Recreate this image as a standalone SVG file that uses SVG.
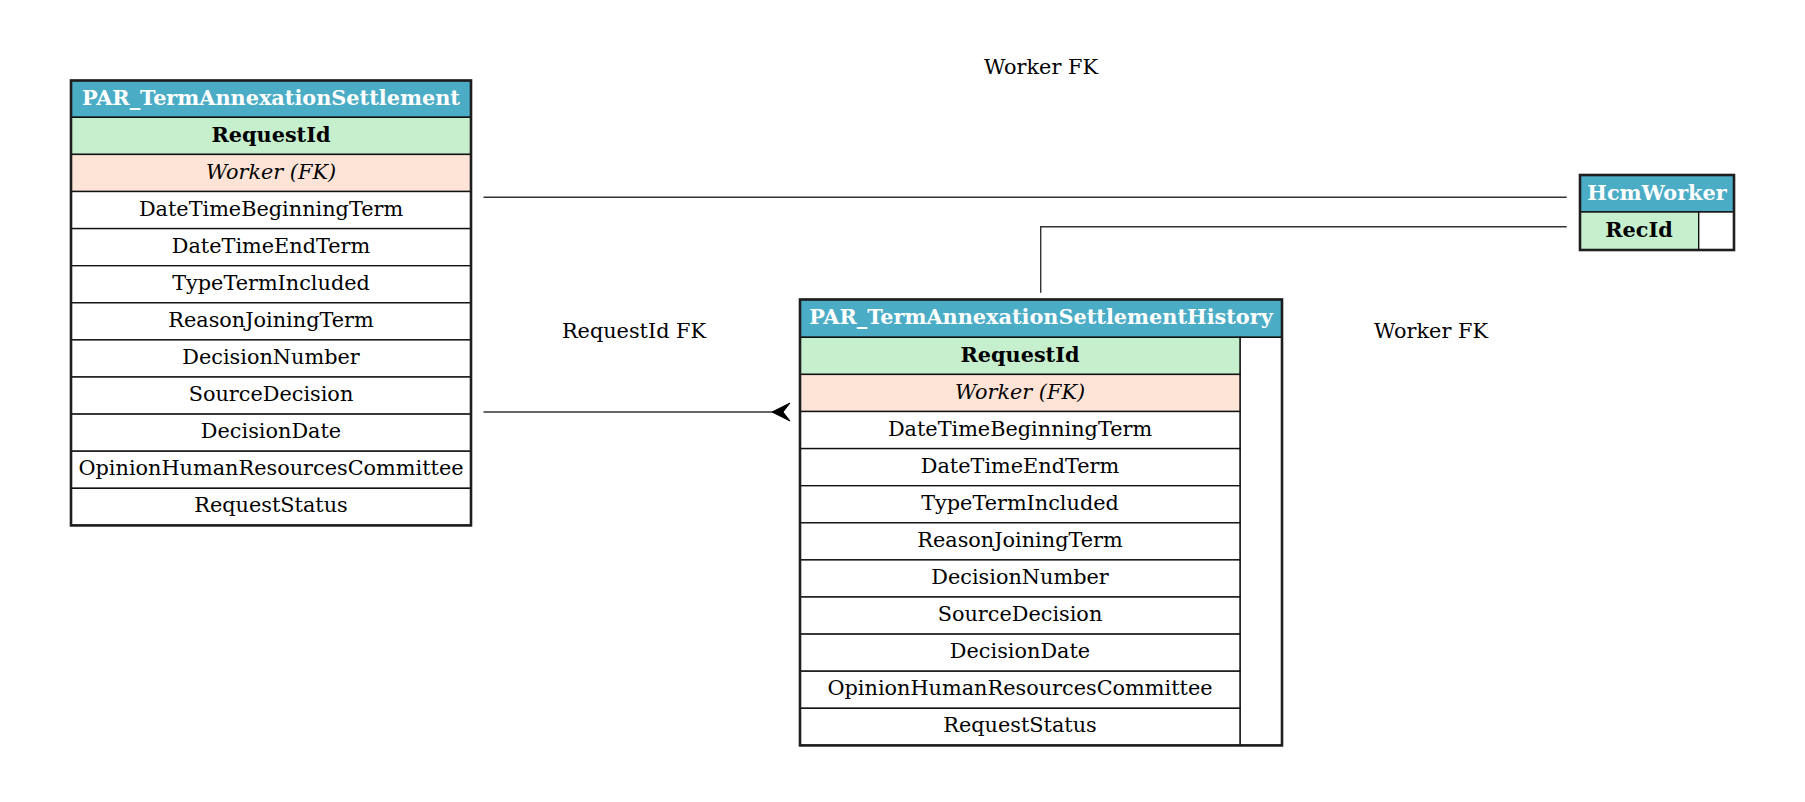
<svg xmlns="http://www.w3.org/2000/svg" width="1805" height="802" viewBox="0 0 1805 802">
<style>
text{font-family:"DejaVu Serif","Liberation Serif",serif;font-size:20.8px;fill:#000;text-anchor:middle}
.hd{font-weight:bold;fill:#fff}
.pk{font-weight:bold}
.fk{font-style:italic}
.hbg{fill:#4bacc6}
.pbg{fill:#c6efce}
.fbg{fill:#fde4d7}
.cell{stroke:#111;stroke-width:1.4}
.outer{fill:none;stroke:#1e1e1e;stroke-width:2.6}
.edge{fill:none;stroke:#333;stroke-width:1.4}
</style>
<rect width="1805" height="802" fill="#fff"/>

<g id="edges">
<path class="edge" d="M483.5,197.3 H1566.7"/>
<path class="edge" d="M1040.7,292.7 V226.7 H1566.7"/>
<path class="edge" d="M483.5,412 H776"/>
<polygon points="772,412 790,403 783,412 790,421" fill="#000" stroke="#000" stroke-width="1"/>
<text x="1041" y="74">Worker FK</text>
<text x="634" y="338">RequestId FK</text>
<text x="1431" y="338">Worker FK</text>
</g>

<g id="PAR_TermAnnexationSettlement">
<rect class="hbg cell" x="71" y="80.5" width="400" height="36.8"/>
<rect class="pbg cell" x="71" y="117.3" width="400" height="37.1"/>
<rect class="fbg cell" x="71" y="154.4" width="400" height="37.1"/>
<rect class="cell" fill="#fff" x="71" y="191.5" width="400" height="37.1"/>
<rect class="cell" fill="#fff" x="71" y="228.6" width="400" height="37.1"/>
<rect class="cell" fill="#fff" x="71" y="265.7" width="400" height="37.1"/>
<rect class="cell" fill="#fff" x="71" y="302.8" width="400" height="37.1"/>
<rect class="cell" fill="#fff" x="71" y="339.9" width="400" height="37.1"/>
<rect class="cell" fill="#fff" x="71" y="377" width="400" height="37.1"/>
<rect class="cell" fill="#fff" x="71" y="414.1" width="400" height="37.1"/>
<rect class="cell" fill="#fff" x="71" y="451.2" width="400" height="37.1"/>
<rect class="cell" fill="#fff" x="71" y="488.3" width="400" height="37.1"/>
<rect class="outer" x="71" y="80.5" width="400" height="444.9"/>
<text class="hd" x="271" y="104.5">PAR_TermAnnexationSettlement</text>
<text class="pk" x="271" y="141.5">RequestId</text>
<text class="fk" x="271" y="178.5">Worker (FK)</text>
<text x="271" y="215.5">DateTimeBeginningTerm</text>
<text x="271" y="252.5">DateTimeEndTerm</text>
<text x="271" y="289.5">TypeTermIncluded</text>
<text x="271" y="326.5">ReasonJoiningTerm</text>
<text x="271" y="363.5">DecisionNumber</text>
<text x="271" y="400.5">SourceDecision</text>
<text x="271" y="437.5">DecisionDate</text>
<text x="271" y="475">OpinionHumanResourcesCommittee</text>
<text x="271" y="512">RequestStatus</text>
</g>

<g id="PAR_TermAnnexationSettlementHistory">
<rect class="hbg cell" x="800" y="299.5" width="482" height="37.8"/>
<rect class="cell" fill="#fff" x="1240" y="337.3" width="42" height="408.1"/>
<rect class="pbg cell" x="800" y="337.3" width="440" height="37.1"/>
<rect class="fbg cell" x="800" y="374.4" width="440" height="37.1"/>
<rect class="cell" fill="#fff" x="800" y="411.5" width="440" height="37.1"/>
<rect class="cell" fill="#fff" x="800" y="448.6" width="440" height="37.1"/>
<rect class="cell" fill="#fff" x="800" y="485.7" width="440" height="37.1"/>
<rect class="cell" fill="#fff" x="800" y="522.8" width="440" height="37.1"/>
<rect class="cell" fill="#fff" x="800" y="559.9" width="440" height="37.1"/>
<rect class="cell" fill="#fff" x="800" y="597" width="440" height="37.1"/>
<rect class="cell" fill="#fff" x="800" y="634.1" width="440" height="37.1"/>
<rect class="cell" fill="#fff" x="800" y="671.2" width="440" height="37.1"/>
<rect class="cell" fill="#fff" x="800" y="708.3" width="440" height="37.1"/>
<rect class="outer" x="800" y="299.5" width="482" height="445.9"/>
<text class="hd" x="1041" y="323.5">PAR_TermAnnexationSettlementHistory</text>
<text class="pk" x="1020" y="361.5">RequestId</text>
<text class="fk" x="1020" y="398.5">Worker (FK)</text>
<text x="1020" y="435.5">DateTimeBeginningTerm</text>
<text x="1020" y="472.5">DateTimeEndTerm</text>
<text x="1020" y="509.5">TypeTermIncluded</text>
<text x="1020" y="546.5">ReasonJoiningTerm</text>
<text x="1020" y="583.5">DecisionNumber</text>
<text x="1020" y="620.5">SourceDecision</text>
<text x="1020" y="657.5">DecisionDate</text>
<text x="1020" y="695">OpinionHumanResourcesCommittee</text>
<text x="1020" y="732">RequestStatus</text>
</g>

<g id="HcmWorker">
<rect class="hbg cell" x="1580" y="175" width="154" height="37"/>
<rect class="pbg cell" x="1580" y="212" width="118.7" height="38"/>
<rect class="cell" fill="#fff" x="1698.7" y="212" width="35.3" height="38"/>
<rect class="outer" x="1580" y="175" width="154" height="75"/>
<text class="hd" x="1657" y="199.5">HcmWorker</text>
<text class="pk" x="1639" y="237">RecId</text>
</g>
</svg>
